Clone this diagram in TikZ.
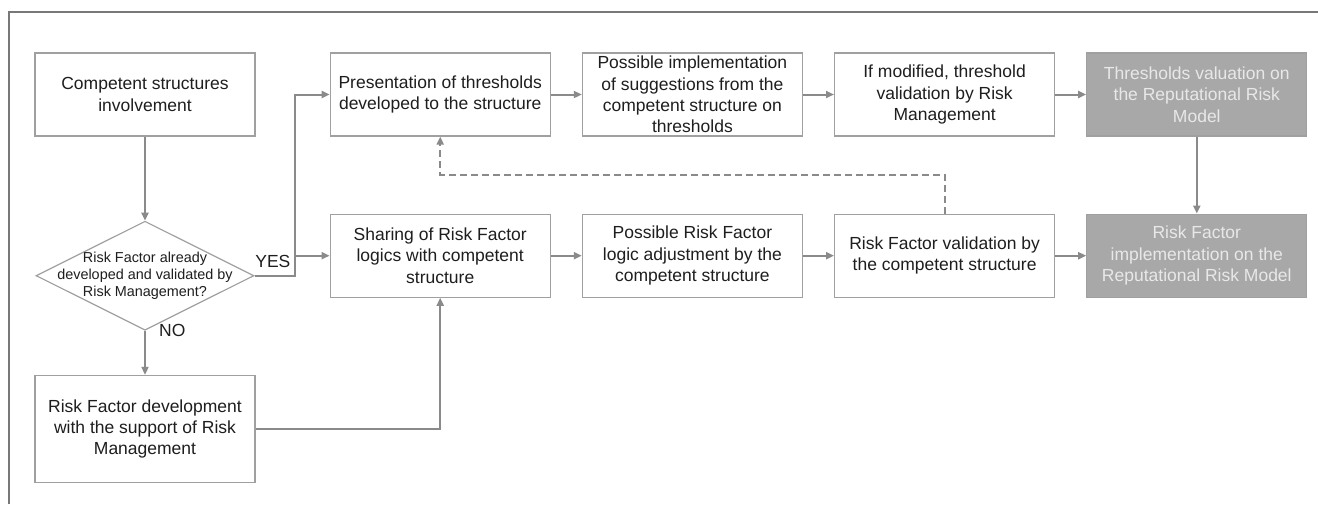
\documentclass[tikz,border=0pt]{standalone}
\usepackage{fontspec}
\setmainfont{Liberation Sans}
\usetikzlibrary{shapes.geometric, arrows.meta, positioning}
\definecolor{linegray}{RGB}{138, 138, 138}
\definecolor{boxgray}{RGB}{160, 160, 160}
\definecolor{fillgray}{RGB}{168, 168, 168}
\definecolor{framegray}{RGB}{120, 120, 120}
\definecolor{textdark}{RGB}{30, 30, 30}
\definecolor{paletext}{RGB}{232, 232, 232}

\begin{document}
\begin{tikzpicture}[
    node distance=31pt and 31pt, >={Triangle[length=8pt, width=7pt]},
    box/.style={rectangle, draw=boxgray, fill=white, line width=1.2pt, minimum width=220pt, minimum height=83pt, inner sep=1pt, align=center, text=textdark, font=\fontsize{17.5}{21.3}\selectfont},
    greybox/.style={box, fill=fillgray, text=paletext},
    decision/.style={diamond, draw=boxgray, fill=white, line width=1.2pt, aspect=2, inner sep=-9.5pt, minimum width=218pt, minimum height=109pt, align=center, text=textdark, font=\fontsize{14.4}{17}\selectfont},
    lbl/.style={text=textdark, inner sep=0pt, font=\fontsize{17.5}{20}\selectfont},
    line/.style={draw, ->, line width=2pt, linegray},
    dashline/.style={line, dash pattern=on 7pt off 4pt}
  ]
    \useasboundingbox (0,0) rectangle (1318pt,-504pt);
    \draw[framegray, line width=2pt] (9pt,-504pt) -- (9pt,-12pt) -- (1318pt,-12pt);

    % left column
    \node (inv) [box] at (145pt,-94.5pt) {Competent structures\\involvement};
    \node (check) [decision, below=84pt of inv] {Risk Factor already\\developed and validated by\\Risk Management?};
    \node (dev) [box, minimum height=107pt, below=44pt of check] {Risk Factor development\\with the support of Risk\\Management};

    % thresholds row
    \node (pres) [box, right=74pt of inv] {Presentation of thresholds\\developed to the structure};
    \node (impl) [box, right=of pres] {Possible implementation\\of suggestions from the\\competent structure on\\thresholds};
    \node (mod) [box, right=of impl] {If modified, threshold\\validation by Risk\\Management};
    \node (thr) [greybox, right=of mod] {Thresholds valuation on\\the Reputational Risk\\Model};

    % risk factor row
    \node (share) [box, below=77pt of pres] {Sharing of Risk Factor\\logics with competent\\structure};
    \node (adj) [box, right=of share] {Possible Risk Factor\\logic adjustment by the\\competent structure};
    \node (valid) [box, right=of adj] {Risk Factor validation by\\the competent structure};
    \node (rfimpl) [greybox, right=of valid] {Risk Factor\\implementation on the\\Reputational Risk Model};

    \coordinate (yes) at ([xshift=40pt]check.east);
    \coordinate (back) at ([yshift=39pt]valid.north);
    \node (yeslbl) [lbl, above left=8pt and 4pt of yes] {YES};
    \node (nolbl) [lbl, right=14pt of check.south] {NO};

    \draw[line] (inv) -- (check);
    \draw[line] (check) -- (dev);
    \draw[line] (check.east) -- (yes) |- (pres.west);
    \draw[line] (yes) |- (share.west);
    \draw[line] (dev.east) -| (share.south);
    \draw[line] (pres) -- (impl);
    \draw[line] (impl) -- (mod);
    \draw[line] (mod) -- (thr);
    \draw[line] (share) -- (adj);
    \draw[line] (adj) -- (valid);
    \draw[line] (valid) -- (rfimpl);
    \draw[line] (thr) -- (rfimpl);
    \draw[dashline] (valid.north) -- (back) -| (pres.south);
  \end{tikzpicture}
\end{document}
